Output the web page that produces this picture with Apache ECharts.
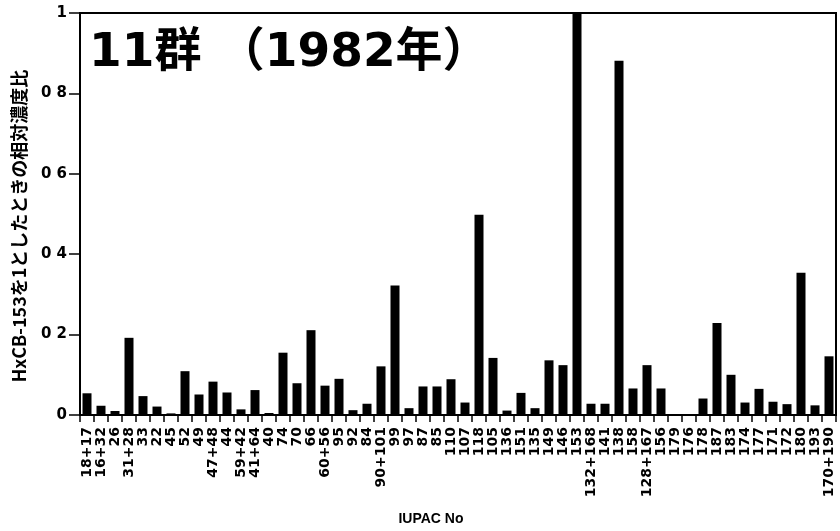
<!DOCTYPE html>
<html>
<head>
<meta charset="utf-8">
<script src="https://cdn.jsdelivr.net/npm/echarts@6/dist/echarts.min.js"></script>
<style>
html,body{margin:0;padding:0;background:#fff;}
#chart{width:840px;height:531px;}
</style>
</head>
<body>
<div id="chart"></div>
<script>
var categories = ["18+17","16+32","26","31+28","33","22","45","52","49","47+48","44","59+42","41+64",
  "40","74","70","66","60+56","95","92","84","90+101","99","97","87","85","110",
  "107","118","105","136","151","135","149","146","153","132+168","141","138","158",
  "128+167","156","179","176","178","187","183","174","177","171","172","180","193","170+190"];
var values = [0.054,0.023,0.010,0.192,0.047,0.021,0.004,0.109,0.051,0.083,0.056,0.014,0.062,
  0.005,0.155,0.079,0.211,0.073,0.090,0.012,0.028,0.121,0.322,0.017,0.071,0.071,0.089,
  0.031,0.498,0.142,0.011,0.055,0.017,0.136,0.124,1.0,0.028,0.028,0.881,0.066,
  0.124,0.066,0.002,0.002,0.041,0.229,0.100,0.031,0.065,0.033,0.027,0.354,0.024,0.146];
var yTickLabels = {"0":"0","0.2":"0 2","0.4":"0 4","0.6":"0 6","0.8":"0 8","1":"1"};
var titleText = "11群 （1982年）";
var yName = "HxCB-153を1としたときの相対濃度比";
var xName = "IUPAC No";

var FONT = '"DejaVu Sans", "Noto Sans CJK JP", sans-serif';
var JFONT = '"Noto Sans CJK JP", sans-serif';
var chart = echarts.init(document.getElementById('chart'), null, {renderer:'canvas'});
chart.setOption({
  animation:false,
  backgroundColor:'#fff',
  title:{
    text:titleText, left:84, top:25,
    textStyle:{fontFamily:FONT, fontSize:47, fontWeight:'bold', color:'#000'}
  },
  grid:{left:80, right:4, top:13, bottom:114, show:true, borderColor:'#000', borderWidth:2},
  xAxis:{
    type:'category', data:categories,
    name:xName, nameLocation:'middle', nameGap:97,
    nameTextStyle:{fontFamily:'"Liberation Sans", sans-serif', fontSize:14, fontWeight:'bold', color:'#000', padding:[0,54,0,0]},
    axisLine:{lineStyle:{color:'#000', width:2}},
    axisTick:{show:true, length:7, lineStyle:{color:'#000', width:1.5}},
    axisLabel:{rotate:90, interval:0, margin:12, fontFamily:FONT, fontSize:14, fontWeight:'bold', color:'#000'}
  },
  yAxis:{
    type:'value', min:0, max:1, interval:0.2,
    name:yName, nameLocation:'middle', nameGap:52, nameRotate:90,
    nameTextStyle:{fontFamily:JFONT, fontSize:18, fontWeight:'bold', color:'#000', padding:[0,24,0,0]},
    splitLine:{show:false},
    axisLine:{show:true, lineStyle:{color:'#000', width:2}},
    axisTick:{show:true, length:11, lineStyle:{color:'#000', width:1.5}},
    axisLabel:{margin:13, fontFamily:FONT, fontSize:15, fontWeight:'bold', color:'#000',
      formatter:function(v){ var k = String(Math.round(v*10)/10); return yTickLabels[k] !== undefined ? yTickLabels[k] : k; }}
  },
  series:[{
    type:'bar', data:values, barWidth:9,
    itemStyle:{color:'#000'}
  }]
});
</script>
</body>
</html>
